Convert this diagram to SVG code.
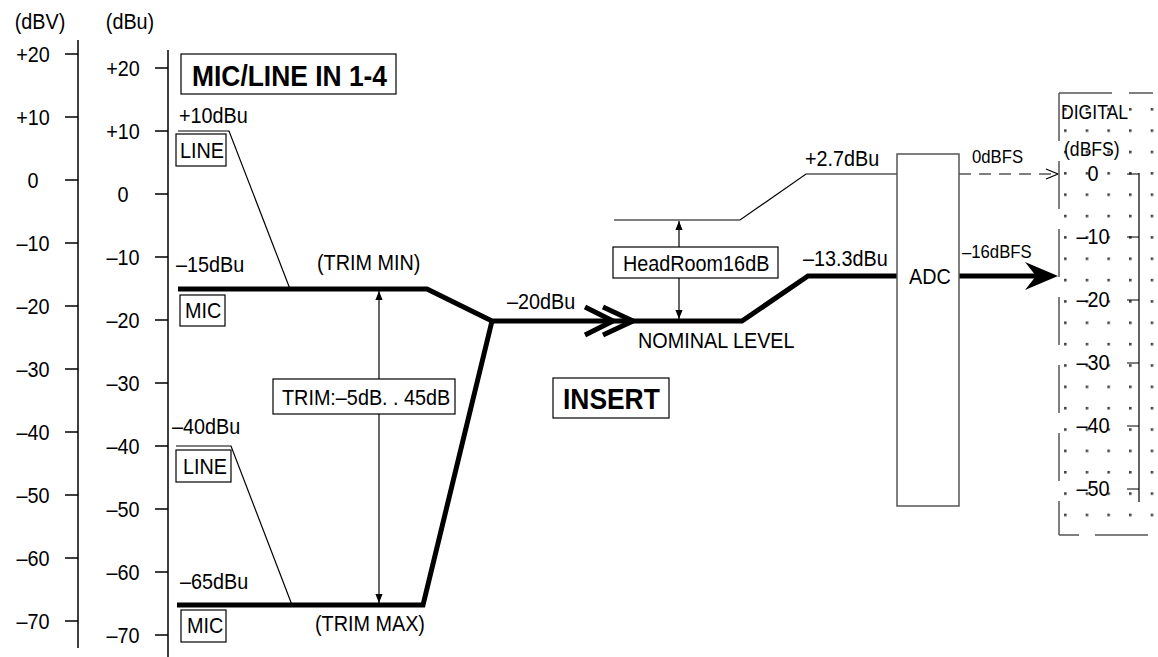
<svg xmlns="http://www.w3.org/2000/svg" width="1158" height="657" viewBox="0 0 1158 657">
<defs>
<style>
text{font-family:"Liberation Sans",Arial,sans-serif;font-size:22.5px;fill:#000;transform-box:fill-box;transform-origin:left center;transform:scale(0.88,1)}
.m{text-anchor:middle;transform-origin:center center}
.b{font-weight:bold;font-size:30px}
.s{font-size:19px}
.d{font-size:20px}
.ax{stroke:#000;stroke-width:1.5;fill:none}
.thin{stroke:#000;stroke-width:1.2;fill:none}
.thick{stroke:#000;stroke-width:5;fill:none;stroke-linejoin:miter}
.box{stroke:#000;stroke-width:1.2;fill:#fff}
.gbox{stroke:#555;stroke-width:1.5;fill:#fff}
.dash{stroke:#555;stroke-width:1.5;fill:none}
</style>
<marker id="tri" viewBox="0 0 10 8" refX="10" refY="4" markerWidth="9" markerHeight="8" markerUnits="userSpaceOnUse" orient="auto-start-reverse">
<path d="M0,0 L10,4 L0,8 z" fill="#000"/>
</marker>
<pattern id="dots" x="1064" y="108" width="21.67" height="21.35" patternUnits="userSpaceOnUse">
<rect x="0" y="0" width="2.6" height="2.6" fill="#444"/>
</pattern>
</defs>
<rect width="1158" height="657" fill="#fff"/>

<g id="axis-dBV">
<text class="m" x="40" y="29">(dBV)</text>
<path class="ax" d="M78,40 V648 M65,54 H78 M65,117 H78 M65,180 H78 M65,243 H78 M65,306 H78 M65,369 H78 M65,432 H78 M65,495 H78 M65,558 H78 M65,621 H78"/>
<text class="m" x="33" y="62">+20</text>
<text class="m" x="33" y="125">+10</text>
<text class="m" x="33" y="188">0</text>
<text class="m" x="33" y="251">–10</text>
<text class="m" x="33" y="314">–20</text>
<text class="m" x="33" y="377">–30</text>
<text class="m" x="33" y="440">–40</text>
<text class="m" x="33" y="503">–50</text>
<text class="m" x="33" y="566">–60</text>
<text class="m" x="33" y="629">–70</text>
</g>

<g id="axis-dBu">
<text class="m" x="130" y="29">(dBu)</text>
<path class="ax" d="M168,50 V657 M155,68 H168 M155,131 H168 M155,194 H168 M155,257 H168 M155,320 H168 M155,383 H168 M155,446 H168 M155,509 H168 M155,572 H168 M155,635 H168"/>
<text class="m" x="123" y="76">+20</text>
<text class="m" x="123" y="139">+10</text>
<text class="m" x="123" y="202">0</text>
<text class="m" x="123" y="265">–10</text>
<text class="m" x="123" y="328">–20</text>
<text class="m" x="123" y="391">–30</text>
<text class="m" x="123" y="454">–40</text>
<text class="m" x="123" y="517">–50</text>
<text class="m" x="123" y="580">–60</text>
<text class="m" x="123" y="643">–70</text>
</g>

<g id="title">
<rect class="box" x="181" y="54" width="215" height="40"/>
<text class="b" x="192" y="86">MIC/LINE IN 1-4</text>
</g>

<g id="connectors">
<path class="thin" d="M178,131 H229 L290,289"/>
<path class="thin" d="M176,446 H231 L292,605"/>
<path class="thick" d="M178,289 H427 L492,321 H630"/>
<path class="thick" d="M177,605 H423 L492,321"/>
<path class="thick" d="M585,307 L613,321 L585,335 M603,307 L633,321 L603,335"/>
<path class="thick" d="M630,321 H742 L808,276 H897"/>
<path class="thin" d="M614,220 H740 L806,174 H897"/>
<path class="thick" d="M959,276 H1036"/>
<polygon points="1058,276 1025,262 1036,276 1025,290" fill="#000"/>
<path class="thin" d="M959,174 H1057" stroke-dasharray="12 8"/>
<path class="thin" d="M1046,169 L1058,174 L1046,179"/>
<line class="thin" x1="379" y1="291" x2="379" y2="603" marker-start="url(#tri)" marker-end="url(#tri)"/>
<line class="thin" x1="679" y1="221" x2="679" y2="319" marker-start="url(#tri)" marker-end="url(#tri)"/>
</g>

<g id="line-upper">
<text x="179" y="123">+10dBu</text>
<rect class="box" x="176" y="134" width="50" height="32"/>
<text x="180" y="158">LINE</text>
</g>
<g id="mic-upper">
<text x="176" y="272">–15dBu</text>
<rect class="box" x="180" y="295" width="45" height="31"/>
<text x="185" y="318">MIC</text>
<text x="317" y="270">(TRIM MIN)</text>
</g>
<g id="line-lower">
<text x="172" y="434">–40dBu</text>
<rect class="box" x="176" y="450" width="55" height="32"/>
<text x="183" y="474">LINE</text>
</g>
<g id="mic-lower">
<text x="180" y="589">–65dBu</text>
<rect class="box" x="181" y="610" width="45" height="32"/>
<text x="187" y="633">MIC</text>
<text x="315" y="631">(TRIM MAX)</text>
</g>
<g id="trim">
<rect class="box" x="273" y="379" width="182" height="35"/>
<text x="282" y="405">TRIM:–5dB. . 45dB</text>
</g>
<g id="insert">
<text x="507" y="309">–20dBu</text>
<rect class="box" x="553" y="378" width="116" height="40"/>
<text class="b" x="563" y="409">INSERT</text>
</g>
<g id="nominal">
<text x="638" y="348">NOMINAL LEVEL</text>
<rect class="box" x="613" y="247" width="165" height="31"/>
<text x="623" y="271">HeadRoom16dB</text>
</g>
<g id="adc">
<text x="805" y="166">+2.7dBu</text>
<text x="803" y="266">–13.3dBu</text>
<rect class="gbox" x="897" y="154" width="62" height="352"/>
<text class="m" x="930" y="284">ADC</text>
<text class="s" x="972" y="163">0dBFS</text>
<text class="s" x="962" y="258">–16dBFS</text>
</g>
<g id="digital">
<rect x="1063" y="107" width="94" height="412" fill="url(#dots)"/>
<path class="dash" d="M1059,93 V535" stroke-dasharray="48 20"/>
<path class="dash" d="M1059,93 H1112 M1129,93 H1153 M1059,535 H1079 M1095,535 H1148"/>
<text class="d" x="1061" y="119">DIGITAL</text>
<text class="d" x="1064" y="156">(dBFS)</text>
<path class="thin" d="M1139,173 V502 M1127,174 H1139 M1127,237 H1139 M1127,300 H1139 M1127,363 H1139 M1127,426 H1139 M1127,489 H1139"/>
<text class="m" x="1093" y="181">0</text>
<text class="m" x="1093" y="244">–10</text>
<text class="m" x="1093" y="307">–20</text>
<text class="m" x="1093" y="370">–30</text>
<text class="m" x="1093" y="433">–40</text>
<text class="m" x="1093" y="496">–50</text>
</g>
</svg>
